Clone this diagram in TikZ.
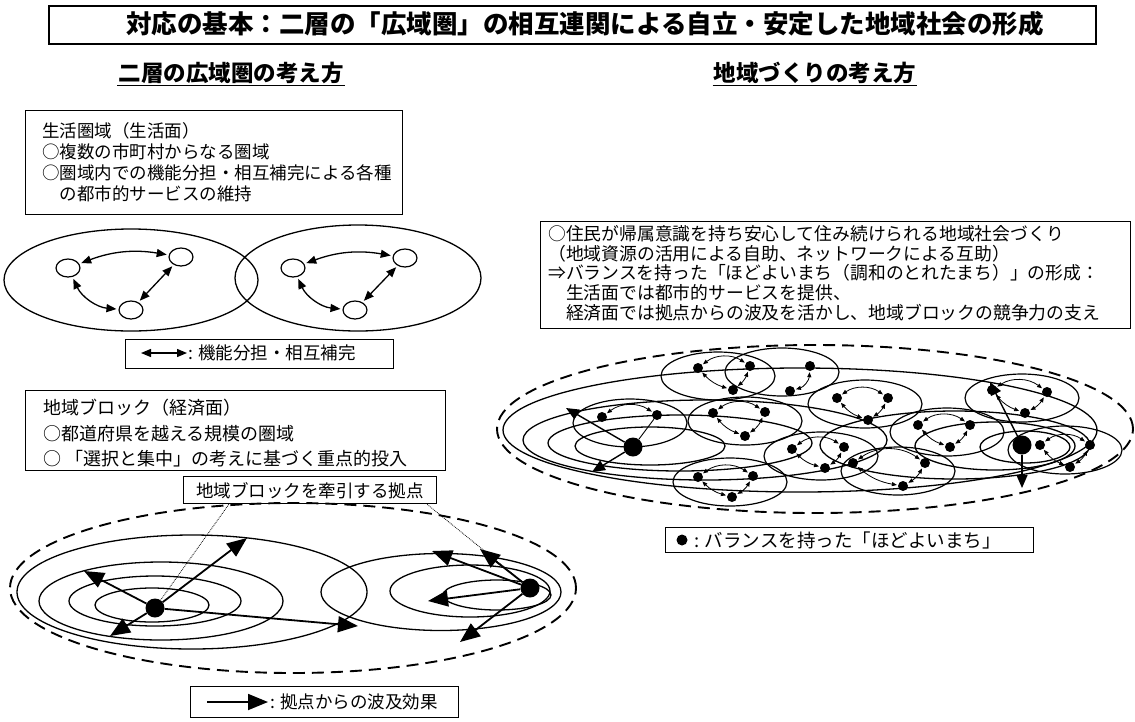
\documentclass[tikz,border=0pt]{standalone}
\usepackage{fontspec}
\setmainfont{Noto Sans CJK JP}
\usetikzlibrary{shapes.geometric,arrows.meta,calc}
\newcommand{\mytown}[5]{%
  \node[townring] (#1) at (#2) {};
  \node[tdot] (#1a) at (#3) {};
  \node[tdot] (#1b) at (#4) {};
  \node[tdot] (#1c) at (#5) {};
  \draw[tarr] (#1a) to[bend left=35] (#1b);
  \draw[tarr] (#1b) to[bend left=15] (#1c);
  \draw[tarr] (#1c) to[bend left=15] (#1a);
}
\newcommand{\mytownii}[4]{%
  \node[townring] (#1) at (#2) {};
  \node[tdot] (#1a) at (#3) {};
  \node[tdot] (#1b) at (#4) {};
  \draw[tarr] (#1a) to[bend left=35] (#1b);
}
\begin{document}
\begin{tikzpicture}[x=1pt,y=-1pt,
  boxframe/.style={draw, line width=1.4pt, inner sep=0pt, anchor=north west},
  txt/.style={anchor=north west, align=left, inner sep=0pt, font=\fontsize{17.5}{21}\selectfont},
  lbl/.style={anchor=west, inner sep=0pt, font=\fontsize{17.5}{21}\selectfont},
  ring/.style={ellipse, draw, line width=1.3pt, inner sep=0pt},
  townring/.style={ellipse, draw, line width=1.2pt, inner sep=0pt, minimum width=114pt, minimum height=48pt},
  tdot/.style={circle, fill=black, inner sep=0pt, minimum size=10pt},
  hub/.style={circle, fill=black, inner sep=0pt, minimum size=19pt},
  smallc/.style={ellipse, draw, line width=1.2pt, inner sep=0pt, minimum width=24pt, minimum height=18pt},
  dbl/.style={line width=1.3pt, shorten <=2pt, shorten >=2pt, {Triangle[length=10pt,width=8pt]}-{Triangle[length=10pt,width=8pt]}},
  tarr/.style={line width=0.8pt, shorten <=1pt, shorten >=1pt, {Triangle[length=5pt,width=4pt]}-{Triangle[length=5pt,width=4pt]}},
  bigarr/.style={line width=1.8pt, -{Triangle[length=20pt,width=16pt]}},
  midarr/.style={line width=1.4pt, -{Triangle[length=13pt,width=11pt]}},
  dashring/.style={ellipse, draw, line width=1.9pt, dash pattern=on 12pt off 7pt, inner sep=0pt},
  leader/.style={line width=0.8pt, densely dotted},
]
\fill[white] (0,0) rectangle (1135,721);
\useasboundingbox (0,0) rectangle (1135,721);

% title
\node[boxframe, line width=1.8pt, minimum width=1047pt, minimum height=38pt] (tbox) at (48,5) {};
\node[font=\fontsize{25.5}{28}\selectfont\bfseries] (ttl) at (585,24) {対応の基本：二層の「広域圏」の相互連関による自立・安定した地域社会の形成};

% subheadings
\node[font=\fontsize{22.5}{25}\selectfont\bfseries, inner sep=1pt] (h1) at (231,73) {二層の広域圏の考え方};
\draw[line width=1.1pt] (h1.south west) -- (h1.south east);
\node[font=\fontsize{22.5}{25}\selectfont\bfseries, inner sep=1pt] (h2) at (815,73) {地域づくりの考え方};
\draw[line width=1.1pt] (h2.south west) -- (h2.south east);

% box 1
\node[boxframe, minimum width=377pt, minimum height=104pt] (b1) at (25,110) {};
\node[txt] (b1t) at (42,122) {生活圏域（生活面）\\○複数の市町村からなる圏域\\○圏域内での機能分担・相互補完による各種\\　の都市的サービスの維持};

% living spheres
\node[ring, minimum width=254pt, minimum height=102pt] (e1) at (131,280) {};
\node[ring, minimum width=246pt, minimum height=106pt] (e2) at (358,278) {};
\node[smallc] (s1) at (68,268) {};
\node[smallc] (s2) at (181,257) {};
\node[smallc] (s3) at (131,310) {};
\node[smallc] (s4) at (293,268) {};
\node[smallc] (s5) at (405,258) {};
\node[smallc] (s6) at (355,310) {};
\draw[dbl] (s1) to[bend left=15] (s2);
\draw[dbl] (s2) -- (s3);
\draw[dbl] (s1) to[bend right=30] (s3);
\draw[dbl] (s4) to[bend left=15] (s5);
\draw[dbl] (s5) -- (s6);
\draw[dbl] (s4) to[bend right=30] (s6);

% legend 1
\node[boxframe, minimum width=268pt, minimum height=29pt] (lg1) at (125,339) {};
\coordinate (lg1a) at (141,353);
\coordinate (lg1b) at (187,353);
\draw[dbl, shorten <=0pt, shorten >=0pt] (lg1a) -- (lg1b);
\node[lbl] (lg1t) at (188,353) {: 機能分担・相互補完};

% box 2
\node[boxframe, minimum width=420pt, minimum height=80pt] (b2) at (25,390) {};
\node[txt, font=\fontsize{18}{25.5}\selectfont] (b2t) at (43,399) {地域ブロック（経済面）\\○都道府県を越える規模の圏域\\○ 「選択と集中」の考えに基づく重点的投入};

% economic blocks
\node[dashring, minimum width=566pt, minimum height=170pt] (dash1) at (293,588) {};
\node[ring, minimum width=350pt, minimum height=114pt] (g1) at (192,592) {};
\node[ring, minimum width=244pt, minimum height=78pt] (g2) at (161,601) {};
\node[ring, minimum width=172pt, minimum height=50pt] (g3) at (155,601) {};
\node[ring, minimum width=114pt, minimum height=34pt] (g4) at (152,605) {};
\node[ring, minimum width=240pt, minimum height=77pt] (g5) at (441,592) {};
\node[ring, minimum width=160pt, minimum height=52pt] (g6) at (470,591) {};
\node[ring, minimum width=108pt, minimum height=30pt] (g7) at (497,595) {};
\node[hub] (hl) at (155,608) {};
\node[hub] (hr) at (530,588) {};
\coordinate (pl1) at (247,538);
\coordinate (pl2) at (84,571);
\coordinate (pl3) at (110,636);
\coordinate (pl4) at (358,626);
\coordinate (pr1) at (428,601);
\coordinate (pr2) at (432,551);
\coordinate (pr3) at (480,549);
\coordinate (pr4) at (460,642);
\draw[bigarr] (hl) -- (pl1);
\draw[bigarr] (hl) -- (pl2);
\draw[bigarr] (hl) -- (pl3);
\draw[bigarr] (hl) -- (pl4);
\draw[bigarr] (hr) -- (pr1);
\draw[bigarr] (hr) -- (pr2);
\draw[bigarr] (hr) -- (pr3);
\draw[bigarr] (hr) -- (pr4);

\node[boxframe, minimum width=253pt, minimum height=27pt] (kbox) at (183,476) {};
\node[font=\fontsize{17.5}{20}\selectfont, inner sep=0pt] (kboxt) at (kbox.center) {地域ブロックを牽引する拠点};
\draw[leader] ($(kbox.south west)!0.18!(kbox.south east)$) -- (hl);
\draw[leader] ($(kbox.south west)!0.96!(kbox.south east)$) -- (hr);

% legend 2
\node[boxframe, minimum width=268pt, minimum height=31pt] (lg2) at (190,686) {};
\coordinate (lg2a) at (207,702);
\coordinate (lg2b) at (268,702);
\draw[bigarr] (lg2a) -- (lg2b);
\node[lbl] (lg2t) at (270,702) {: 拠点からの波及効果};

% right text box
\node[boxframe, minimum width=590pt, minimum height=107pt] (rb) at (540,221) {};
\node[txt, font=\fontsize{17.8}{19.8}\selectfont] (rbt) at (548,225) {○住民が帰属意識を持ち安心して住み続けられる地域社会づくり\\（地域資源の活用による自助、ネットワークによる互助）\\⇒バランスを持った「ほどよいまち（調和のとれたまち）」の形成：\\　生活面では都市的サービスを提供、\\　経済面では拠点からの波及を活かし、地域ブロックの競争力の支え};

% right network
\node[dashring, minimum width=636pt, minimum height=168pt] (dash2) at (815,429) {};
\node[ring, minimum width=594pt, minimum height=124pt] (L4) at (800,430) {};
\node[ring, minimum width=364pt, minimum height=80pt] (L3) at (705,440) {};
\node[ring, minimum width=264pt, minimum height=56pt] (L2) at (680,443) {};
\node[ring, minimum width=150pt, minimum height=38pt] (L1) at (650,446) {};
\node[ring, minimum width=270pt, minimum height=68pt] (R3) at (955,445) {};
\node[ring, minimum width=160pt, minimum height=48pt] (R2) at (995,446) {};
\node[ring, minimum width=90pt, minimum height=32pt] (R1) at (1025,447) {};

\mytown{ta}{718,376}{698,368}{750,366}{733,390}
\mytownii{tb}{782,372}{810,366}{790,391}
\mytownii{tc}{630,423}{602,417}{657,415}
\mytown{td}{745,421}{713,413}{765,412}{745,436}
\mytown{te}{730,482}{698,477}{753,476}{732,497}
\mytown{tf}{821,456}{792,449}{844,447}{825,468}
\mytown{tg}{865,404}{837,398}{888,398}{868,420}
\mytown{th}{1022,398}{992,390}{1047,392}{1025,413}
\mytown{ti}{898,471}{853,463}{925,463}{903,486}
\mytown{tj}{947,432}{918,425}{970,425}{950,447}
\mytown{tk}{1065,450}{1040,445}{1090,445}{1070,467}

\node[hub] (hn1) at (633,447) {};
\node[hub] (hn2) at (1022,445) {};
\coordinate (q1) at (566,408);
\coordinate (q2) at (592,472);
\coordinate (q3) at (1022,488);
\coordinate (q4) at (990,382);
\draw[midarr] (hn1) -- (q1);
\draw[midarr] (hn1) -- (q2);
\draw[midarr] (hn2) -- (q3);
\draw[midarr] (hn2) -- (q4);
\draw[line width=0.9pt] (hn1) -- (tcb);

% legend 3
\node[boxframe, minimum width=368pt, minimum height=25pt] (lg3) at (665,527) {};
\node[tdot, minimum size=11pt] (lg3d) at (682,540) {};
\node[lbl, font=\fontsize{18.5}{22}\selectfont] (lg3t) at (694,540) {: バランスを持った「ほどよいまち」};
\end{tikzpicture}
\end{document}
